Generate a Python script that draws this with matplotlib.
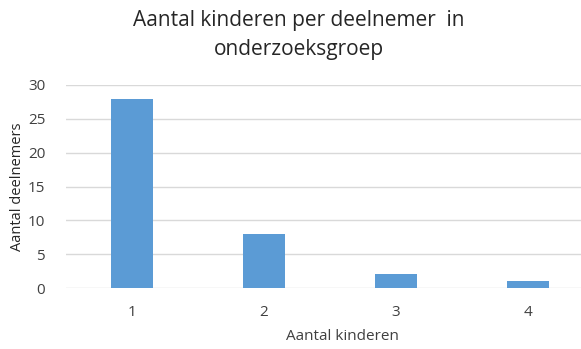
import matplotlib
matplotlib.use("Agg")
import matplotlib.pyplot as plt

categories = ["1", "2", "3", "4"]
values = [28, 8, 2, 1]
yticks = [0, 5, 10, 15, 20, 25, 30]

title = "Aantal kinderen per deelnemer  in\nonderzoeksgroep"
xlabel = "Aantal kinderen"
ylabel = "Aantal deelnemers"

plt.rcParams["font.family"] = ["Open Sans", "DejaVu Sans"]

W, H = 581, 349
fig = plt.figure(figsize=(W / 100, H / 100), dpi=100)
ax = fig.add_axes([66 / W, (H - 288) / H, 1 - 66 / W, (288 - 85) / H])

x = list(range(1, len(categories) + 1))
ax.bar(x, values, width=0.32, color="#5B9BD5", zorder=3)

ax.set_xlim(0.5, 0.5 + (W - 66) / 132)
ax.set_ylim(0, 30)
ax.set_yticks(yticks)
ax.set_xticks(x)
ax.set_xticklabels(categories)
ax.grid(axis="y", color="#D9D9D9", linewidth=1, zorder=0)
for s in ax.spines.values():
    s.set_visible(False)
ax.tick_params(length=0, labelsize=11, colors="#404040")
ax.tick_params(axis="x", pad=12)
ax.tick_params(axis="y", pad=15)

fig.text(299 / W, 1 - 35 / H, title, ha="center", va="center",
         fontsize=15, color="#262626", linespacing=1.5)
fig.text(342 / W, 1 - 337 / H, xlabel, ha="center", va="center",
         fontsize=11, color="#404040")
fig.text(18 / W, 1 - 187 / H, ylabel, ha="center", va="center",
         rotation=90, fontsize=10.5, color="#262626")

fig.savefig("out.png", dpi=100)
